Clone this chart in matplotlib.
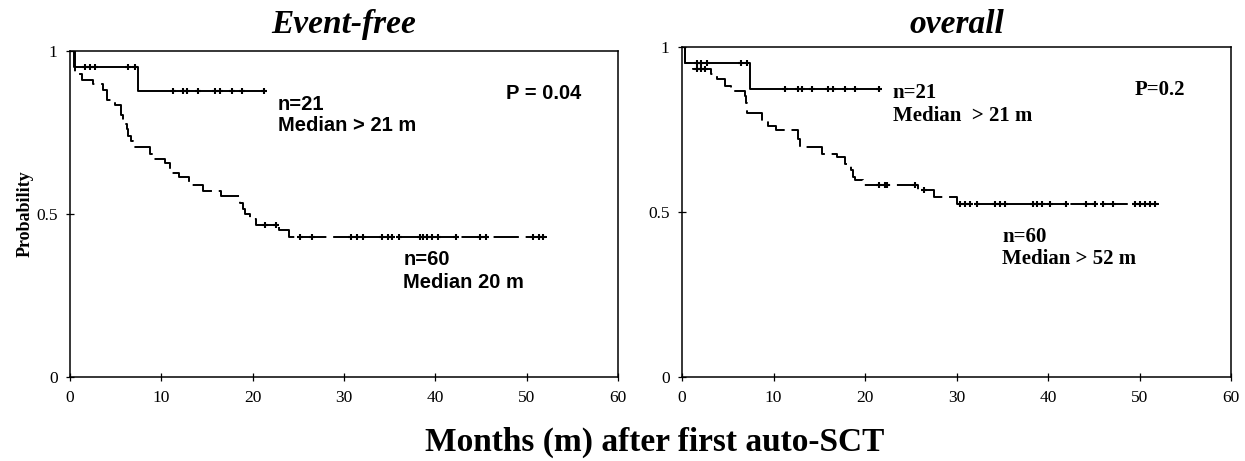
import numpy as np
import matplotlib
matplotlib.use("Agg")
import matplotlib.pyplot as plt

# --- Event-free (izquierda) ---
efs21_t = [0, 0.4, 7.4, 21.2]
efs21_s = [1.0, 0.95, 0.876, 0.876]
efs21_cens = [1.6, 2.2, 2.7, 6.4, 7.1, 11.3, 12.4, 12.8, 14.0, 15.9, 16.4,
              17.7, 18.8, 21.2]

efs60_t = [0, 0.5, 1.3, 2.5, 3.6, 4.0, 4.9, 5.6, 5.8, 6.2, 6.4, 6.7, 6.9,
           8.8, 9.1, 10.4, 10.9, 11.9, 13.0, 14.6, 16.5, 18.6, 18.9, 19.2,
           19.7, 20.4, 22.9, 24.0, 52.2]
efs60_s = [1.0, 0.93, 0.91, 0.90, 0.88, 0.85, 0.835, 0.805, 0.775, 0.76,
           0.74, 0.725, 0.705, 0.685, 0.67, 0.655, 0.625, 0.612, 0.59, 0.57,
           0.555, 0.535, 0.515, 0.50, 0.485, 0.465, 0.452, 0.43, 0.43]
efs60_cens = [21.4, 22.5, 25.2, 26.5, 30.8, 31.4, 32.1, 34.2, 34.8, 35.3,
              36.0, 38.3, 38.7, 39.1, 39.6, 40.3, 42.3, 44.9, 45.6, 50.7,
              51.3, 51.8]

# --- overall (derecha) ---
os21_t = [0, 0.33, 7.4, 21.5]
os21_s = [1.0, 0.95, 0.873, 0.873]
os21_cens = [1.6, 2.1, 2.7, 6.5, 7.1, 11.3, 12.7, 13.1, 14.2, 16.0, 16.5,
             17.8, 18.9, 21.5]

os60_t = [0, 0.3, 1.2, 3.2, 3.8, 4.7, 5.4, 6.9, 7.0, 7.1, 8.7, 9.4, 10.3,
          12.7, 12.9, 15.3, 16.9, 17.8, 18.5, 18.7, 18.9, 19.8, 25.8, 27.5,
          30.0, 52.1]
os60_s = [1.0, 0.95, 0.934, 0.919, 0.903, 0.883, 0.868, 0.853, 0.83, 0.80,
          0.775, 0.762, 0.747, 0.722, 0.697, 0.677, 0.666, 0.646, 0.626,
          0.606, 0.596, 0.581, 0.566, 0.545, 0.525, 0.525]
os60_cens = [1.6, 2.1, 2.5, 21.5, 22.2, 22.4, 25.5, 26.5, 30.4, 30.9, 31.5,
             32.2, 34.2, 34.8, 35.3, 38.4, 38.8, 39.3, 40.2, 42.0, 44.2,
             45.1, 46.0, 47.1, 49.5, 50.1, 50.6, 51.2, 51.7]

SERIF = "Liberation Serif"
SANS = "Liberation Sans"


def surv_at(t, s, x):
    idx = np.searchsorted(t, x, side="right") - 1
    return np.asarray(s)[idx]


def km(ax, t, s, cens, dashed=False):
    line, = ax.step(t, s, where="post", color="black", lw=1.4)
    if dashed:
        line.set_dashes((13, 3.5))
    ax.plot(cens, surv_at(t, s, cens), ls="none", marker="+", ms=5,
            mew=1.5, color="black")


def estilo(ax):
    ax.set_xlim(0, 60)
    ax.set_ylim(0, 1)
    ax.set_xticks(range(0, 61, 10))
    ax.set_yticks([0, 0.5, 1])
    ax.set_yticklabels(["0", "0.5", "1"])
    ax.tick_params(direction="inout", length=6, width=0.9, pad=6,
                   labelsize=12.5)
    for lab in ax.get_xticklabels() + ax.get_yticklabels():
        lab.set_family(SERIF)
    for sp in ax.spines.values():
        sp.set_linewidth(1.1)


fig = plt.figure(figsize=(12.45, 4.61), dpi=100)
axL = fig.add_axes([70 / 1245, 84 / 461, 548 / 1245, 326 / 461])
axR = fig.add_axes([682 / 1245, 84 / 461, 549 / 1245, 330 / 461])

km(axL, efs21_t, efs21_s, efs21_cens)
km(axL, efs60_t, efs60_s, efs60_cens, dashed=True)
km(axR, os21_t, os21_s, os21_cens)
km(axR, os60_t, os60_s, os60_cens, dashed=True)
estilo(axL)
estilo(axR)

axL.set_title("Event-free", family=SERIF, style="italic", weight="bold",
              fontsize=24, pad=13)
axR.set_title("overall", family=SERIF, style="italic", weight="bold",
              fontsize=24, pad=10)
axL.set_ylabel("Probability", family=SERIF, weight="bold", fontsize=13,
               labelpad=2)

# anotaciones del panel izquierdo (sans)
axL.text(0.865, 0.87, "P = 0.04", transform=axL.transAxes, family=SANS,
         weight="bold", fontsize=14.5, ha="center", va="center")
axL.text(0.379, 0.865, "n=21\nMedian > 21 m", transform=axL.transAxes,
         family=SANS, weight="bold", fontsize=14.5, ha="left", va="top",
         linespacing=1.15)
axL.text(0.608, 0.39, "n=60\nMedian 20 m", transform=axL.transAxes,
         family=SANS, weight="bold", fontsize=14.5, ha="left", va="top",
         linespacing=1.25)

# anotaciones del panel derecho (serif)
axR.text(0.871, 0.87, "P=0.2", transform=axR.transAxes, family=SERIF,
         weight="bold", fontsize=15, ha="center", va="center")
axR.text(0.384, 0.89, "n=21\nMedian  > 21 m", transform=axR.transAxes,
         family=SERIF, weight="bold", fontsize=15, ha="left", va="top",
         linespacing=1.15)
axR.text(0.583, 0.455, "n=60\nMedian > 52 m", transform=axR.transAxes,
         family=SERIF, weight="bold", fontsize=15, ha="left", va="top",
         linespacing=1.15)

fig.text(655 / 1245, 0.04, "Months (m) after first auto-SCT", family=SERIF,
         weight="bold", fontsize=24, ha="center", va="center")

fig.savefig("out.png", dpi=100)
